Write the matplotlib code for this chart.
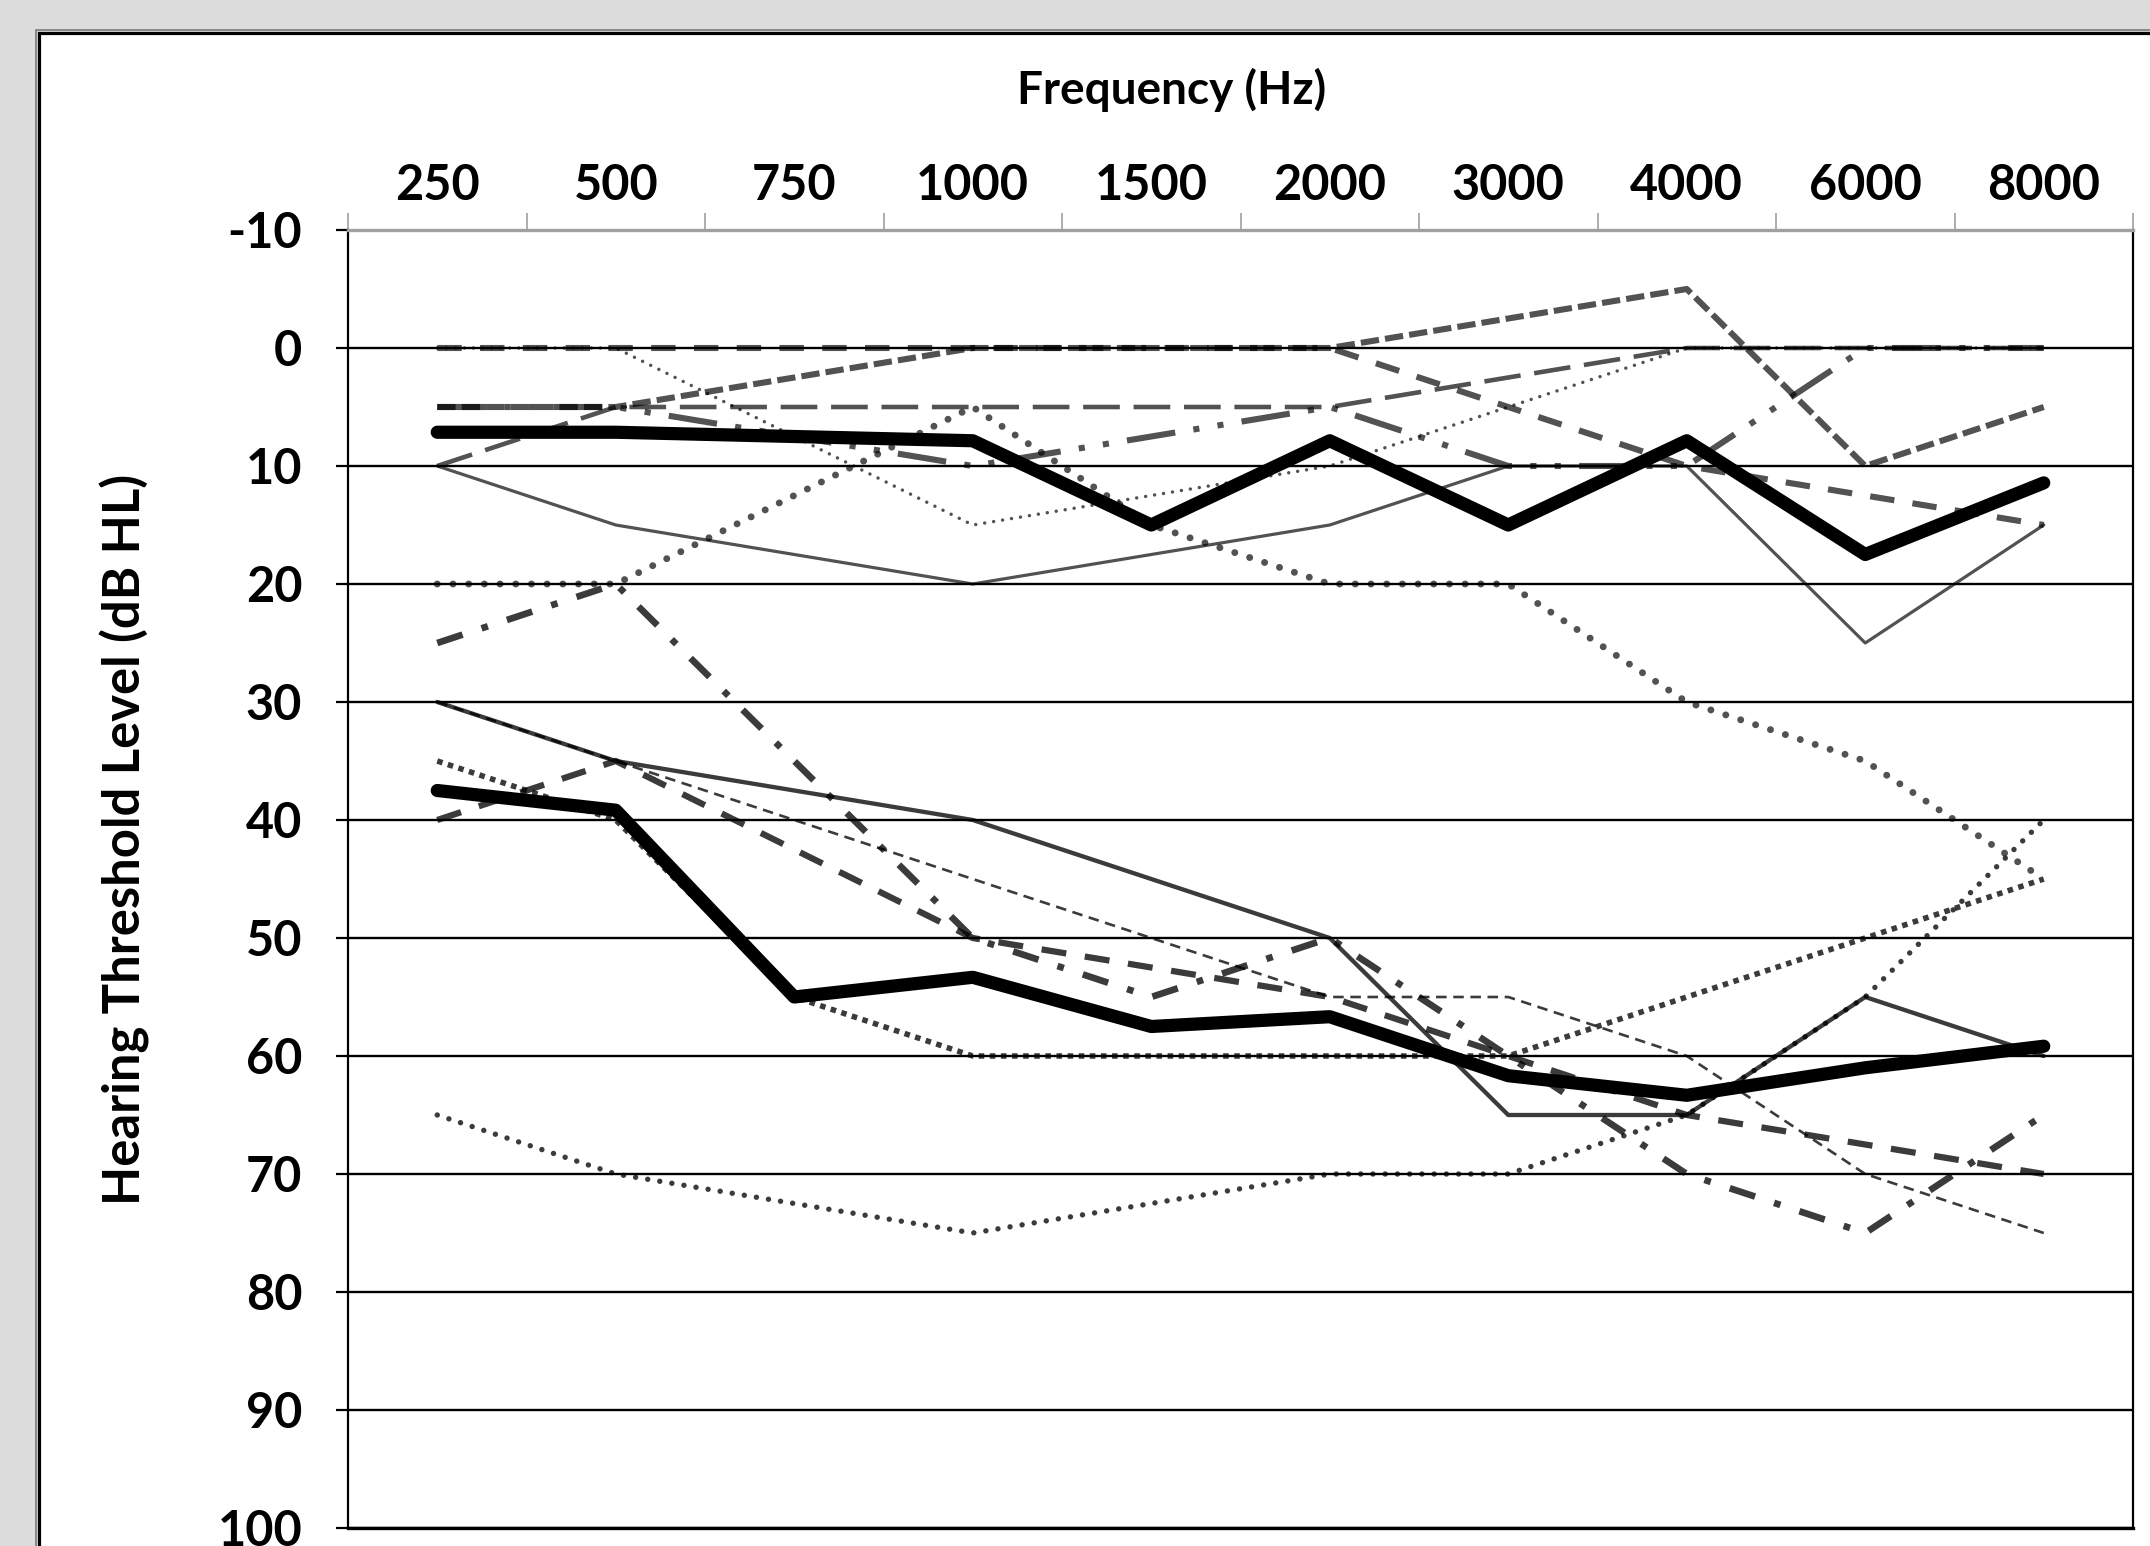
import numpy as np
import matplotlib
matplotlib.use('Agg')
import matplotlib.pyplot as plt
from matplotlib.patches import Rectangle

nan = np.nan
freqs = ['250', '500', '750', '1000', '1500', '2000', '3000', '4000', '6000', '8000']
y_ticks = list(range(-10, 101, 10))

# Upper (near-normal) group, dB HL (nan = not tested)
up_round_dot = [20, 20, nan, 5, 15, 20, 20, 30, 35, 45]
up_thin_dot = [0, 0, nan, 15, nan, 10, nan, 0, nan, 0]
up_sys_dash = [5, 5, nan, 0, nan, 0, nan, -5, 10, 5]
up_long_dash = [10, 5, nan, 5, nan, 5, nan, 0, nan, 0]
up_ldash_dot_dot = [5, 5, nan, 10, nan, 5, 10, 10, 0, 0]
up_dash = [0, 0, nan, 0, nan, 0, nan, 10, nan, 15]
up_solid = [10, 15, nan, 20, nan, 15, 10, 10, 25, 15]
up_mean = [7.14, 7.14, nan, 7.86, 15, 7.86, 15, 7.86, 17.5, 11.43]

# Lower (hearing-loss) group
lo_solid = [30, 35, nan, 40, nan, 50, 65, 65, 55, 60]
lo_thin_dash = [30, 35, nan, 45, nan, 55, 55, 60, 70, 75]
lo_dash = [40, 35, nan, 50, nan, 55, 60, 65, nan, 70]
lo_dash_dot = [25, 20, nan, 50, 55, 50, 60, 70, 75, 65]
lo_square_dot = [35, 40, 55, 60, 60, 60, 60, 55, 50, 45]
lo_round_dot = [65, 70, nan, 75, nan, 70, 70, 65, 55, 40]
lo_mean = [37.5, 39.17, 55, 53.33, 57.5, 56.67, 61.67, 63.33, 61, 59.17]

W, H = 2150, 1546
def fx(px):
    return px / W
def fy(py):
    return 1 - py / H

FONT = ['Lato', 'DejaVu Sans']
plt.rcParams['font.family'] = FONT

fig = plt.figure(figsize=(W / 100, H / 100), dpi=100)
fig.patch.set_facecolor('#dcdcdc')

# chart-area frame (extends beyond right/bottom edges)
fig.add_artist(Rectangle((fx(35.5), fy(1800)), (2400 - 35.5) / W, (1800 - 29.5) / H,
                         fill=False, ec='#707070', lw=1.1, transform=fig.transFigure,
                         zorder=-20))
fig.add_artist(Rectangle((fx(38.8), fy(1800)), (2400 - 38.8) / W, (1800 - 33) / H,
                         fc='white', ec='black', lw=2.3, transform=fig.transFigure,
                         zorder=-19))

ax = fig.add_axes([fx(348), fy(1528), (2133 - 348) / W, (1528 - 230) / H])
ax.set_facecolor('white')
ax.set_zorder(1)

x = np.arange(len(freqs))

def draw(vals, color, lw, ls, cap='butt', alpha=1.0, z=3):
    v = np.array(vals, dtype=float)
    m = ~np.isnan(v)
    line, = ax.plot(x[m], v[m], color=color, lw=lw, alpha=alpha, zorder=z,
                    solid_capstyle='round', solid_joinstyle='round')
    line.set_linestyle(ls)
    line.set_dash_capstyle(cap)
    return line

UP = '#000000'
ua = 0.68
la = 0.77
round_dot = (0, (0.01, 2.25))

# upper group
draw(up_solid, UP, 2.3, '-', alpha=ua)
draw(up_long_dash, UP, 3.3, (0, (8, 3)), alpha=ua)
draw(up_dash, UP, 4.4, (0, (4, 3)), alpha=ua)
draw(up_sys_dash, UP, 4.4, (0, (3, 1)), alpha=ua)
draw(up_ldash_dot_dot, UP, 4.4, (0, (8, 3, 1, 3, 1, 3)), alpha=ua)
draw(up_thin_dot, UP, 2.5, (0, (0.01, 2.6)), cap='round', alpha=ua)
draw(up_round_dot, UP, 5.0, round_dot, cap='round', alpha=ua)

# lower group
draw(lo_solid, UP, 3.1, '-', alpha=la)
draw(lo_thin_dash, UP, 1.9, (0, (4, 2.5)), alpha=la)
draw(lo_dash, UP, 4.5, (0, (4, 3)), alpha=la)
draw(lo_dash_dot, UP, 4.8, (0, (4, 3, 1, 3)), alpha=la)
draw(lo_square_dot, UP, 4.0, (0, (1, 1)), alpha=la)
draw(lo_round_dot, UP, 3.9, round_dot, cap='round', alpha=la)

# group means
draw(up_mean, 'black', 9.5, '-', z=5)
draw(lo_mean, 'black', 9.5, '-', z=5)

ax.set_xlim(-0.5, len(freqs) - 0.5)
ax.set_ylim(100, -10)

ax.xaxis.tick_top()
ax.set_xticks(x)
ax.set_xticklabels(freqs, fontsize=35, fontweight='bold')
ax.set_xticks(np.arange(-0.5, len(freqs)), minor=True)
ax.tick_params(axis='x', which='major', length=0, pad=16)
ax.tick_params(axis='x', which='minor', length=12, width=1.2, color='#a0a0a0', top=True, bottom=False)

ax.set_yticks(y_ticks)
ax.set_yticklabels([str(t) for t in y_ticks], fontsize=35, fontweight='bold')
ax.tick_params(axis='y', which='major', length=9, width=1.6, color='black', pad=24)

for t in y_ticks[1:]:
    ax.axhline(t, color='black', lw=1.7, zorder=1)

ax.spines['top'].set_color('#a0a0a0')
ax.spines['top'].set_linewidth(2.4)
ax.spines['top'].set_zorder(6)
ax.spines['left'].set_linewidth(1.6)
ax.spines['right'].set_linewidth(1.6)
ax.spines['bottom'].set_linewidth(2.4)

fig.text(fx(1172), fy(90), 'Frequency (Hz)', ha='center', va='center',
         fontsize=33, fontweight='bold')
fig.text(fx(125), fy(839), 'Hearing Threshold Level (dB HL)', ha='center', va='center',
         rotation=90, fontsize=36.5, fontweight='bold')

fig.savefig('out.png', dpi=100, facecolor=fig.get_facecolor())
